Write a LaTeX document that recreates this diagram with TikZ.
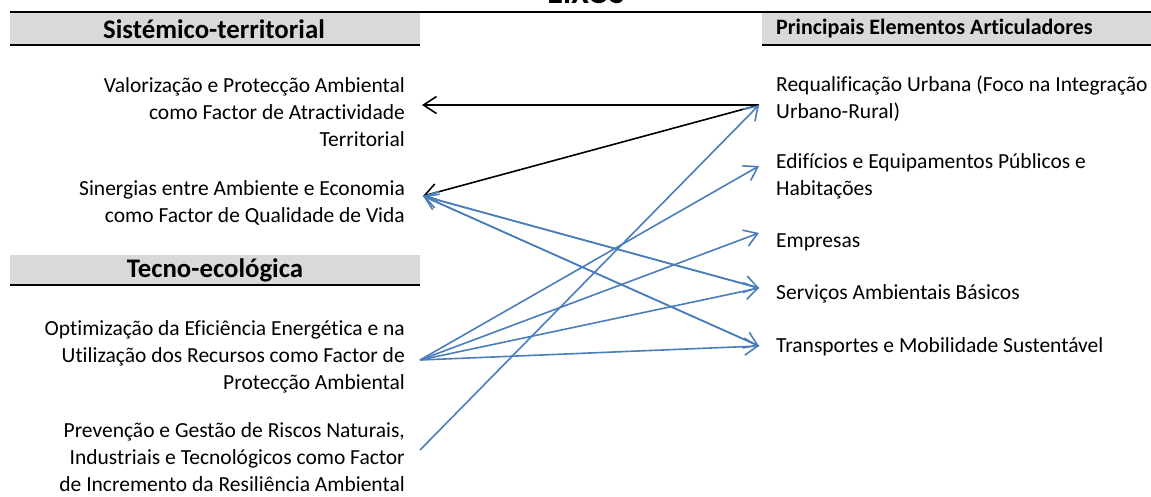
\documentclass[tikz,border=0pt]{standalone}
\usepackage{fontspec}
\setmainfont{Carlito}[Ligatures=CommonOff]
\usetikzlibrary{arrows.meta}
\definecolor{hdrgray}{HTML}{D9D9D9}
\definecolor{linkblue}{HTML}{4A7EBB}
\tikzset{
  bodytxt/.style={inner sep=0pt, font=\fontsize{21.5}{27}\selectfont},
  lefttxt/.style={bodytxt, anchor=east, align=right},
  righttxt/.style={bodytxt, anchor=west, align=left},
  hdrtxt/.style={inner sep=0pt, font=\fontsize{26.8}{30}\selectfont\bfseries},
  hdrsmall/.style={inner sep=0pt, font=\fontsize{22}{26}\selectfont\bfseries},
  rule/.style={line width=2pt, black},
  link/.style={line width=1.6pt, -{Straight Barb[length=13pt,width=17pt,line width=1.6pt]}},
  blacklink/.style={link, black},
  bluelink/.style={link, linkblue},
}
\begin{document}
\begin{tikzpicture}[x=1pt,y=-1pt]
\useasboundingbox (0,0) rectangle (1151,496);
% header boxes
\fill[hdrgray] (10,12) rectangle (420,45);
\fill[hdrgray] (762,12) rectangle (1151,45);
\fill[hdrgray] (10,255) rectangle (420,285);
\draw[rule] (10,12) -- (1151,12);
\draw[rule] (10,45) -- (420,45);
\draw[rule] (762,45) -- (1151,45);
\draw[rule] (10,285) -- (420,285);
% header texts
\node[hdrtxt, font=\fontsize{32}{36}\selectfont\bfseries, anchor=base] (eixos) at (586,3) {EIXOS};
\node[hdrtxt] (hsis) at (214,29) {Sistémico-territorial};
\node[hdrtxt] (htec) at (215,270) {Tecno-ecológica};
\node[hdrsmall, anchor=west] (hpea) at (776,29) {Principais Elementos Articuladores};
% left texts
\node[lefttxt] (val) at (405,112) {Valorização e Protecção Ambiental\\como Factor de Atractividade\\Territorial};
\node[lefttxt] (sin) at (405,203) {Sinergias entre Ambiente e Economia\\como Factor de Qualidade de Vida};
\node[lefttxt] (opt) at (405,357) {Optimização da Eficiência Energética e na\\Utilização dos Recursos como Factor de\\Protecção Ambiental};
\node[lefttxt] (pre) at (405,457) {Prevenção e Gestão de Riscos Naturais,\\Industriais e Tecnológicos como Factor\\de Incremento da Resiliência Ambiental};
% right texts
\node[righttxt] (req) at (776,99) {Requalificação Urbana (Foco na Integração\\Urbano-Rural)};
\node[righttxt] (edi) at (776,176) {Edifícios e Equipamentos Públicos e\\Habitações};
\node[righttxt] (emp) at (776,242) {Empresas};
\node[righttxt] (ser) at (776,294) {Serviços Ambientais Básicos};
\node[righttxt] (tra) at (776,347) {Transportes e Mobilidade Sustentável};
% connection points
\coordinate (valP) at (422,105);
\coordinate (sinP) at (423,196);
\coordinate (optP) at (420,360);
\coordinate (preP) at (420,450);
\coordinate (reqP) at (759,105);
\coordinate (ediP) at (759,166);
\coordinate (empP) at (759,233);
\coordinate (serP) at (759,288);
\coordinate (traP) at (759,346);
% connectors
\draw[blacklink] (reqP) -- (valP);
\draw[blacklink] (reqP) -- (sinP);
\draw[bluelink] (serP) -- (sinP);
\draw[bluelink] (traP) -- (sinP);
\draw[bluelink] (sinP) -- (serP);
\draw[bluelink] (sinP) -- (traP);
\draw[bluelink] (optP) -- (ediP);
\draw[bluelink] (optP) -- (empP);
\draw[bluelink] (optP) -- (serP);
\draw[bluelink] (optP) -- (traP);
\draw[bluelink] (preP) -- (reqP);
\end{tikzpicture}
\end{document}
